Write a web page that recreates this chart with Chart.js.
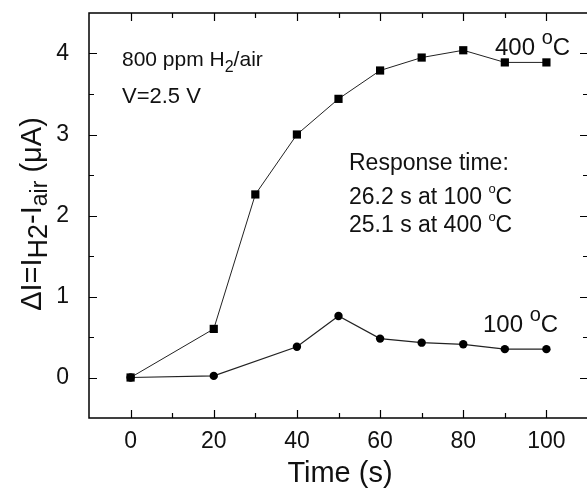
<!DOCTYPE html>
<html>
<head>
<meta charset="utf-8">
<script src="https://cdn.jsdelivr.net/npm/chart.js@4.4.0/dist/chart.umd.min.js"></script>
<style>
  html, body { margin: 0; padding: 0; background: #fff; overflow: hidden; }
  #wrap { width: 600px; height: 492px; }
</style>
</head>
<body>
<div id="wrap"><canvas id="chart" width="600" height="492"></canvas></div>
<script>
// time points (s)
const times400 = [0, 20, 30, 40, 50, 60, 70, 80, 90, 100];
const values400 = [0, 0.60, 2.26, 3.0, 3.44, 3.79, 3.95, 4.04, 3.89, 3.89];
const times100 = [0, 20, 40, 50, 60, 70, 80, 90, 100];
const values100 = [0, 0.02, 0.38, 0.76, 0.48, 0.43, 0.41, 0.35, 0.35];

const xTicks = [0, 20, 40, 60, 80, 100];
const yTicks = [0, 1, 2, 3, 4];

const FONT = '"Liberation Sans", Arial, sans-serif';

function toPoints(xs, ys) {
    return xs.map((x, i) => ({ x: x, y: ys[i] }));
}

// draw text pieces with sub/superscripts, each piece: [text, size, dy]
function drawRich(ctx, parts, x, y) {
    let cx = x;
    parts.forEach(p => {
        ctx.font = p[1] + 'px ' + FONT;
        ctx.fillText(p[0], cx, y + p[2]);
        cx += ctx.measureText(p[0]).width;
    });
    return cx - x;
}

function richWidth(ctx, parts) {
    let w = 0;
    parts.forEach(p => {
        ctx.font = p[1] + 'px ' + FONT;
        w += ctx.measureText(p[0]).width;
    });
    return w;
}

// frame, inward ticks and annotations
const framePlugin = {
    id: 'frame',
    afterDraw(chart) {
        const ctx = chart.ctx;
        const a = chart.chartArea;
        const xs = chart.scales.x;
        const ys = chart.scales.y;
        ctx.save();
        ctx.strokeStyle = '#000';
        ctx.lineWidth = 1.5;
        ctx.strokeRect(a.left, a.top, a.right - a.left, a.bottom - a.top);

        ctx.lineWidth = 1.2;
        ctx.beginPath();
        for (let v = -10; v <= 110; v += 10) {
            const px = Math.round(xs.getPixelForValue(v)) + 0.5;
            const len = (v % 20 === 0) ? 8 : 5;
            if (px <= a.left + 1 || px >= a.right - 1) continue;
            ctx.moveTo(px, a.bottom); ctx.lineTo(px, a.bottom - len);
            ctx.moveTo(px, a.top); ctx.lineTo(px, a.top + len);
        }
        for (let v = 0; v <= 4.0001; v += 0.5) {
            const py = Math.round(ys.getPixelForValue(v)) + 0.5;
            const len = (Math.abs(v - Math.round(v)) < 0.01) ? 8 : 5;
            ctx.moveTo(a.left, py); ctx.lineTo(a.left + len, py);
            ctx.moveTo(a.right, py); ctx.lineTo(a.right - len, py);
        }
        ctx.stroke();

        ctx.fillStyle = '#111';
        ctx.textBaseline = 'alphabetic';
        ctx.textAlign = 'left';

        // annotations
        drawRich(ctx, [['800 ppm H', 21, 0], ['2', 16, 6], ['/air', 21, 0]], 122, 66);
        drawRich(ctx, [['V=2.5 V', 22, 0]], 122, 103);
        drawRich(ctx, [['Response time:', 23, 0]], 349, 170);
        drawRich(ctx, [['26.2 s at 100 ', 23, 0], ['o', 13, -11], ['C', 23, 0]], 349, 204);
        drawRich(ctx, [['25.1 s at 400 ', 23, 0], ['o', 13, -11], ['C', 23, 0]], 349, 232);
        drawRich(ctx, [['400 ', 24, 0], ['o', 20, -11], ['C', 24, 0]], 495, 55);
        drawRich(ctx, [['100 ', 24, 0], ['o', 20, -11], ['C', 24, 0]], 483, 332);

        // x title
        ctx.textAlign = 'center';
        ctx.font = '29px ' + FONT;
        ctx.fillText('Time (s)', 340, 482);

        // y title, rotated
        const yParts = [['\u0394I=I', 29, 0], ['H2', 27, 6], ['-I', 29, 0], ['air', 23, 6], [' (\u03bcA)', 29, 0]];
        ctx.textAlign = 'left';
        const w = richWidth(ctx, yParts);
        ctx.translate(41, 214);
        ctx.rotate(-Math.PI / 2);
        drawRich(ctx, yParts, -w / 2, 0);
        ctx.restore();
    }
};

const ctx = document.getElementById('chart').getContext('2d');
new Chart(ctx, {
    type: 'line',
    data: {
        datasets: [{
            label: '400 °C',
            data: toPoints(times400, values400),
            borderColor: '#222',
            backgroundColor: '#000',
            borderWidth: 1,
            pointStyle: 'rect',
            pointRadius: 5.8,
            pointBorderWidth: 0,
            tension: 0
        }, {
            label: '100 °C',
            data: toPoints(times100, values100),
            borderColor: '#222',
            backgroundColor: '#000',
            borderWidth: 1.2,
            pointStyle: 'circle',
            pointRadius: 4.2,
            pointBorderWidth: 0,
            tension: 0
        }]
    },
    options: {
        responsive: false,
        animation: false,
        layout: { padding: { left: 0, right: 12, top: 13, bottom: 0 } },
        plugins: { legend: { display: false }, tooltip: { enabled: false } },
        scales: {
            x: {
                type: 'linear',
                min: -10,
                max: 110,
                afterBuildTicks: s => { s.ticks = xTicks.map(v => ({ value: v })); },
                afterFit: s => { s.height = 74; s.paddingLeft = 0; s.paddingRight = 0; },
                grid: { display: false, drawTicks: false },
                border: { display: false },
                ticks: { color: '#111', font: { family: FONT, size: 23 }, padding: 10, maxRotation: 0 }
            },
            y: {
                type: 'linear',
                min: -0.5,
                max: 4.5,
                afterBuildTicks: s => { s.ticks = yTicks.map(v => ({ value: v })); },
                afterFit: s => { s.width = 89; s.paddingTop = 0; s.paddingBottom = 0; },
                grid: { display: false, drawTicks: false },
                border: { display: false },
                ticks: { color: '#111', font: { family: FONT, size: 23 }, padding: 20 }
            }
        }
    },
    plugins: [framePlugin]
});
</script>
</body>
</html>
